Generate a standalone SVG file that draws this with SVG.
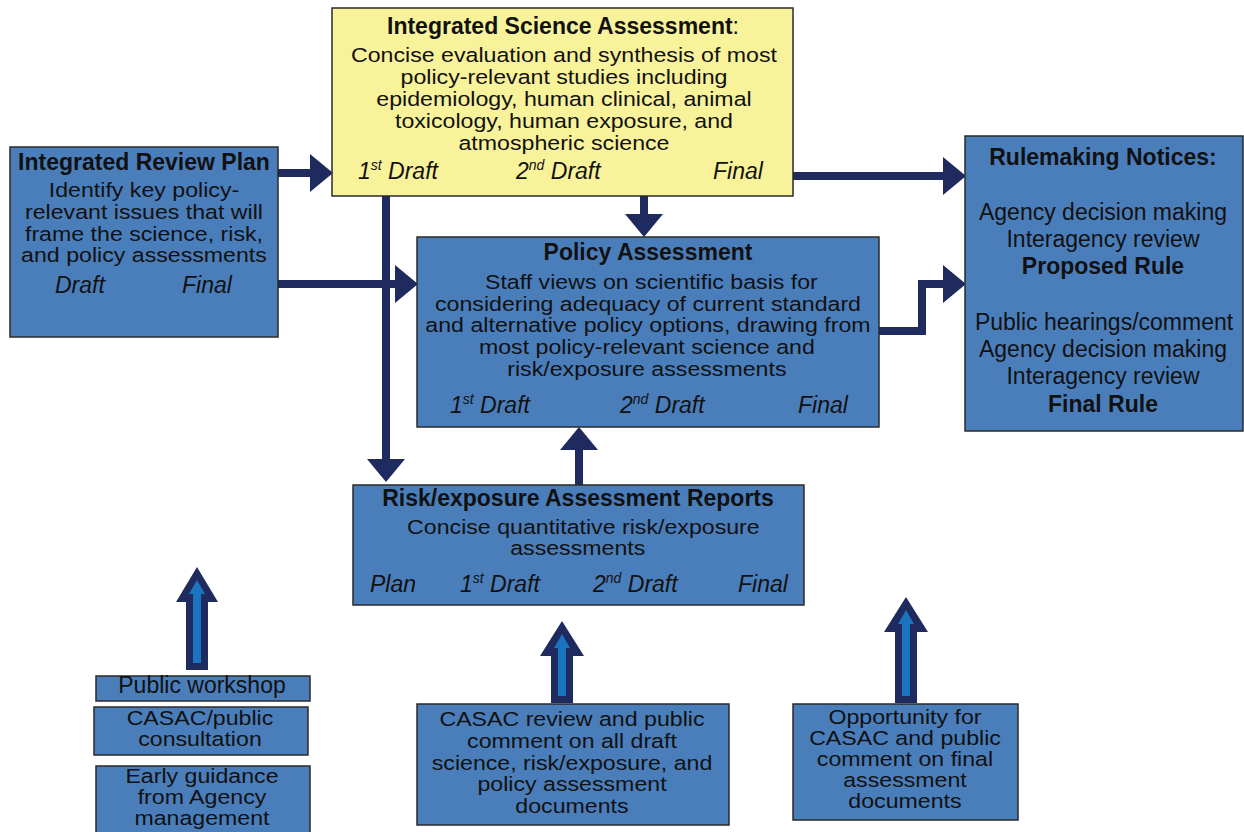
<svg xmlns="http://www.w3.org/2000/svg" width="1244" height="832" viewBox="0 0 1244 832">
<defs>
<style>
.box{fill:#4a7ebb;stroke:#2a2a2a;stroke-width:1.5}
.ybox{fill:#f8f29b;stroke:#2a2a2a;stroke-width:1.5}
text{font-family:"Liberation Sans",Arial,sans-serif;font-size:23px;fill:#111;text-anchor:middle}
.t{font-size:20.5px}
.b{font-weight:bold}
.i{font-style:italic;text-anchor:start}
.sup{font-size:14px}
.conn{fill:none;stroke:#1f2a5e;stroke-width:8}
.outer{fill:#1f2a5e}
.inner{fill:#1a74c0}
</style>
<marker id="ah" markerUnits="userSpaceOnUse" markerWidth="23" markerHeight="38" refX="0" refY="19" orient="auto">
<path d="M0,0 L23,19 L0,38 z" fill="#1f2a5e"/>
</marker>
</defs>
<rect width="1244" height="832" fill="#fff"/>

<g id="connectors">
<path class="conn" d="M278,173 H310" marker-end="url(#ah)"/>
<path class="conn" d="M278,284 H395" marker-end="url(#ah)"/>
<path class="conn" d="M386,196 V459" marker-end="url(#ah)"/>
<path class="conn" d="M644,196 V214" marker-end="url(#ah)"/>
<path class="conn" d="M579,485 V450" marker-end="url(#ah)"/>
<path class="conn" d="M793,176 H943" marker-end="url(#ah)"/>
<path class="conn" d="M879,331 H922 V284 H943" marker-end="url(#ah)"/>
<g id="hollow-arrow-left">
<polygon class="outer" points="186,670 186,602 176,602 197,567 218,602 208,602 208,670"/>
<polygon class="inner" points="193,663 193,594 189,594 197,580 205,594 201,594 201,663"/>
</g>
<g id="hollow-arrow-mid">
<polygon class="outer" points="551,703 551,656 540,656 562,621 584,656 573,656 573,703"/>
<polygon class="inner" points="558,696 558,648 554,648 562,634 570,648 566,648 566,696"/>
</g>
<g id="hollow-arrow-right">
<polygon class="outer" points="895,703 895,632 884,632 906,597 928,632 917,632 917,703"/>
<polygon class="inner" points="902,696 902,624 898,624 906,610 914,624 910,624 910,696"/>
</g>
</g>

<g id="irp">
<rect class="box" x="10" y="147" width="268" height="190"/>
<text class="b" x="144" y="170">Integrated Review Plan</text>
<g transform="matrix(1.13,0,0,1,-18.72,0)">
<text class="t" x="144" y="197">Identify key policy-</text>
<text class="t" x="144" y="219">relevant issues that will</text>
<text class="t" x="144" y="241">frame the science, risk,</text>
<text class="t" x="144" y="262">and policy assessments</text>
</g>
<text class="i" x="55" y="293">Draft</text>
<text class="i" x="182" y="293">Final</text>
</g>

<g id="isa">
<rect class="ybox" x="332" y="8" width="461" height="188"/>
<text x="563" y="34"><tspan class="b">Integrated Science Assessment</tspan>:</text>
<g transform="matrix(1.13,0,0,1,-73.32,0)">
<text class="t" x="564" y="62">Concise evaluation and synthesis of most</text>
<text class="t" x="564" y="84">policy-relevant studies including</text>
<text class="t" x="564" y="106">epidemiology, human clinical, animal</text>
<text class="t" x="564" y="128">toxicology, human exposure, and</text>
<text class="t" x="564" y="150">atmospheric science</text>
</g>
<text class="i" x="358" y="179">1<tspan class="sup" dy="-9">st</tspan><tspan dy="9"> Draft</tspan></text>
<text class="i" x="516" y="179">2<tspan class="sup" dy="-9">nd</tspan><tspan dy="9"> Draft</tspan></text>
<text class="i" x="713" y="179">Final</text>
</g>

<g id="pa">
<rect class="box" x="417" y="237" width="462" height="190"/>
<text class="b" x="648" y="260">Policy Assessment</text>
<g transform="matrix(1.13,0,0,1,-84.24,0)">
<text class="t" x="651" y="289">Staff views on scientific basis for</text>
<text class="t" x="648" y="311">considering adequacy of current standard</text>
<text class="t" x="648" y="332">and alternative policy options, drawing from</text>
<text class="t" x="647" y="354">most policy-relevant science and</text>
<text class="t" x="647" y="376">risk/exposure assessments</text>
</g>
<text class="i" x="450" y="413">1<tspan class="sup" dy="-9">st</tspan><tspan dy="9"> Draft</tspan></text>
<text class="i" x="620" y="413">2<tspan class="sup" dy="-9">nd</tspan><tspan dy="9"> Draft</tspan></text>
<text class="i" x="798" y="413">Final</text>
</g>

<g id="rulemaking">
<rect class="box" x="965" y="136" width="278" height="295"/>
<text class="b" x="1103" y="165">Rulemaking Notices:</text>
<text x="1103" y="220">Agency decision making</text>
<text x="1103" y="247">Interagency review</text>
<text class="b" x="1103" y="274">Proposed Rule</text>
<text x="1104" y="330">Public hearings/comment</text>
<text x="1103" y="357">Agency decision making</text>
<text x="1103" y="384">Interagency review</text>
<text class="b" x="1103" y="412">Final Rule</text>
</g>

<g id="risk">
<rect class="box" x="353" y="485" width="451" height="120"/>
<text class="b" x="578" y="506">Risk/exposure Assessment Reports</text>
<g transform="matrix(1.13,0,0,1,-75.4,0)">
<text class="t" x="583" y="534">Concise quantitative risk/exposure</text>
<text class="t" x="578" y="555">assessments</text>
</g>
<text class="i" x="370" y="592">Plan</text>
<text class="i" x="460" y="592">1<tspan class="sup" dy="-9">st</tspan><tspan dy="9"> Draft</tspan></text>
<text class="i" x="593" y="592">2<tspan class="sup" dy="-9">nd</tspan><tspan dy="9"> Draft</tspan></text>
<text class="i" x="738" y="592">Final</text>
</g>

<g id="public-workshop">
<rect class="box" x="96" y="676" width="214" height="25"/>
<text x="202" y="693">Public workshop</text>
</g>

<g id="casac-consultation">
<rect class="box" x="94" y="707" width="214" height="48"/>
<g transform="matrix(1.13,0,0,1,-26,0)">
<text class="t" x="200" y="725">CASAC/public</text>
<text class="t" x="200" y="746">consultation</text>
</g>
</g>

<g id="early-guidance">
<rect class="box" x="96" y="766" width="214" height="70"/>
<g transform="matrix(1.13,0,0,1,-26.26,0)">
<text class="t" x="202" y="783">Early guidance</text>
<text class="t" x="202" y="804">from Agency</text>
<text class="t" x="202" y="825">management</text>
</g>
</g>

<g id="casac-review">
<rect class="box" x="417" y="704" width="312" height="121"/>
<g transform="matrix(1.13,0,0,1,-74.36,0)">
<text class="t" x="572" y="726">CASAC review and public</text>
<text class="t" x="572" y="748">comment on all draft</text>
<text class="t" x="572" y="770">science, risk/exposure, and</text>
<text class="t" x="572" y="791">policy assessment</text>
<text class="t" x="572" y="813">documents</text>
</g>
</g>

<g id="opportunity">
<rect class="box" x="793" y="704" width="225" height="116"/>
<g transform="matrix(1.13,0,0,1,-117.65,0)">
<text class="t" x="905" y="724">Opportunity for</text>
<text class="t" x="905" y="745">CASAC and public</text>
<text class="t" x="905" y="766">comment on final</text>
<text class="t" x="905" y="787">assessment</text>
<text class="t" x="905" y="808">documents</text>
</g>
</g>
</svg>
